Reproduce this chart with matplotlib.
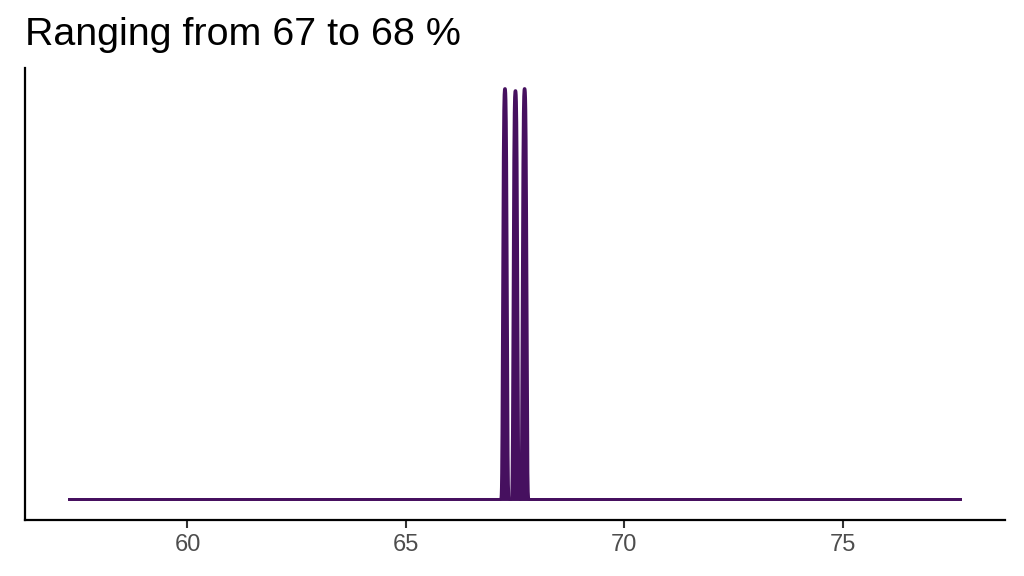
import matplotlib.pyplot as plt
import numpy as np

plt.rcParams['font.family'] = ['Liberation Sans', 'DejaVu Sans']

# three narrow, flat-topped density curves (centre, half-width, relative peak height)
centres = [67.27, 67.51, 67.72]
spreads = [0.06, 0.06, 0.06]
heights = [1.0, 0.995, 1.0]
x_range = [57.3, 77.7]
xticks = [60, 65, 70, 75]
colour = '#46105f'

fig = plt.figure(figsize=(10.24, 5.76), dpi=100)
ax = fig.add_axes([25 / 1024, 56 / 576, 980 / 1024, 452 / 576])

grid = np.linspace(x_range[0], x_range[1], 8000)
for c, s, h in zip(centres, spreads, heights):
    dens = h * np.exp(-np.abs((grid - c) / s) ** 4)
    ax.fill_between(grid, dens, color=colour, linewidth=0)
    ax.plot(grid, dens, color=colour, linewidth=2, solid_joinstyle='round')

span = x_range[1] - x_range[0]
ax.set_xlim(x_range[0] - 0.05 * span, x_range[1] + 0.05 * span)
ax.set_ylim(-0.05 * max(heights), 1.05 * max(heights))

ax.set_xticks(xticks)
ax.set_xticklabels([str(t) for t in xticks], fontsize=17, color='#4d4d4d')
ax.tick_params(axis='x', length=6, width=1.5, color='#333333', pad=4)
ax.set_yticks([])
for side in ['top', 'right']:
    ax.spines[side].set_visible(False)
for side in ['left', 'bottom']:
    ax.spines[side].set_linewidth(1.6)
    ax.spines[side].set_color('black')

fig.text(25 / 1024, 1 - 35 / 576, 'Ranging from 67 to 68 %', fontsize=28.4,
         va='center', ha='left')

fig.savefig('out.png', dpi=100)
